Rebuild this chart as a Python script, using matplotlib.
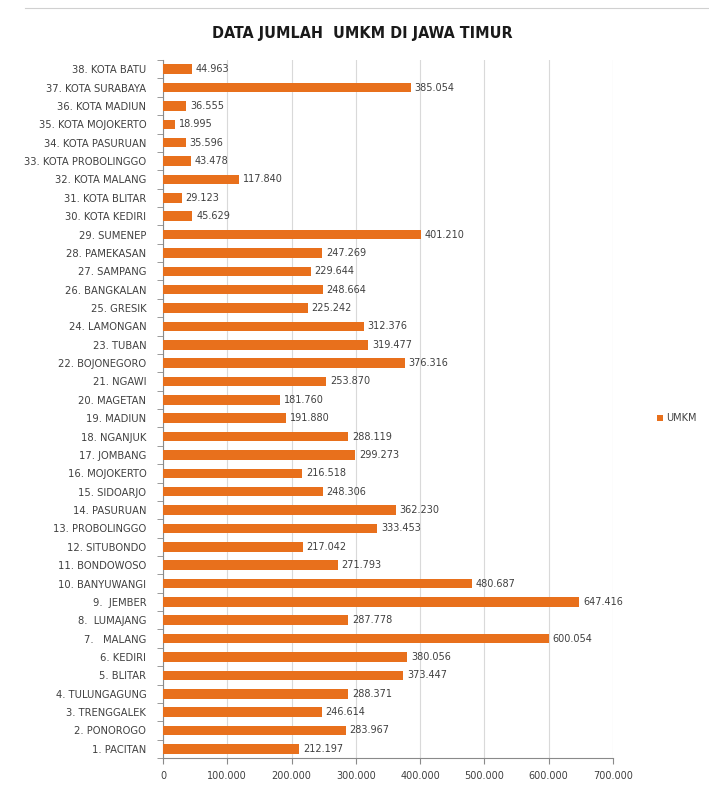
import matplotlib.pyplot as plt
from matplotlib.lines import Line2D

# data, kabupaten/kota 1..38
labels = ['1. PACITAN', '2. PONOROGO', '3. TRENGGALEK', '4. TULUNGAGUNG', '5. BLITAR',
          '6. KEDIRI', '7.   MALANG', '8.  LUMAJANG', '9.  JEMBER', '10. BANYUWANGI',
          '11. BONDOWOSO', '12. SITUBONDO', '13. PROBOLINGGO', '14. PASURUAN',
          '15. SIDOARJO', '16. MOJOKERTO', '17. JOMBANG', '18. NGANJUK', '19. MADIUN',
          '20. MAGETAN', '21. NGAWI', '22. BOJONEGORO', '23. TUBAN', '24. LAMONGAN',
          '25. GRESIK', '26. BANGKALAN', '27. SAMPANG', '28. PAMEKASAN', '29. SUMENEP',
          '30. KOTA KEDIRI', '31. KOTA BLITAR', '32. KOTA MALANG', '33. KOTA PROBOLINGGO',
          '34. KOTA PASURUAN', '35. KOTA MOJOKERTO', '36. KOTA MADIUN',
          '37. KOTA SURABAYA', '38. KOTA BATU']
umkm = [212197, 283967, 246614, 288371, 373447, 380056, 600054, 287778, 647416, 480687,
        271793, 217042, 333453, 362230, 248306, 216518, 299273, 288119, 191880, 181760,
        253870, 376316, 319477, 312376, 225242, 248664, 229644, 247269, 401210, 45629,
        29123, 117840, 43478, 35596, 18995, 36555, 385054, 44963]
xticks = [0, 100000, 200000, 300000, 400000, 500000, 600000, 700000]


def fmt(v):
    return f'{v:,}'.replace(',', '.')


bar_color = '#E8701C'
text_color = '#404040'

fig = plt.figure(figsize=(7.09, 7.86), dpi=100)
ax = fig.add_axes([0.2299, 0.0356, 0.6347, 0.888])

y = list(range(len(labels)))
bars = ax.barh(y, umkm, height=0.52, color=bar_color, label='UMKM', zorder=3)
for i in range(len(umkm)):
    ax.text(umkm[i] + 6000, y[i], fmt(umkm[i]), va='center', ha='left',
            fontsize=7, color=text_color)

ax.set_ylim(-0.5, len(labels) - 0.5)
ax.set_xlim(0, 700000)
ax.set_yticks(y)
ax.set_yticklabels(labels, fontsize=7.2, color=text_color)
ax.set_yticks([i - 0.5 for i in range(len(labels) + 1)], minor=True)
ax.tick_params(axis='y', which='major', length=0, pad=12)
ax.tick_params(axis='y', which='minor', length=4, color='#8a8a8a')
ax.set_xticks(xticks)
ax.set_xticklabels([fmt(t) for t in xticks], fontsize=7, color=text_color)
ax.tick_params(axis='x', length=4, color='#8a8a8a', pad=5)

ax.grid(axis='x', color='#d9d9d9', linewidth=0.8, zorder=0)
for s in ['top', 'right']:
    ax.spines[s].set_visible(False)
for s in ['left', 'bottom']:
    ax.spines[s].set_color('#8a8a8a')

fig.text(0.511, 0.958, 'DATA JUMLAH  UMKM DI JAWA TIMUR', ha='center', va='center',
         fontsize=11.5, fontweight='bold', family='DejaVu Sans', fontstretch='condensed',
         color='#1a1a1a')

fig.legend(handles=[bars], labels=['UMKM'], loc='center left',
           bbox_to_anchor=(0.915, 0.468), frameon=False, fontsize=7,
           handlelength=0.6, handleheight=0.6, handletextpad=0.3,
           labelcolor=text_color)

fig.add_artist(Line2D([0.035, 1.0], [0.99, 0.99], color='#d0d0d0', linewidth=0.8,
                      transform=fig.transFigure))

fig.savefig('out.png', dpi=100)
